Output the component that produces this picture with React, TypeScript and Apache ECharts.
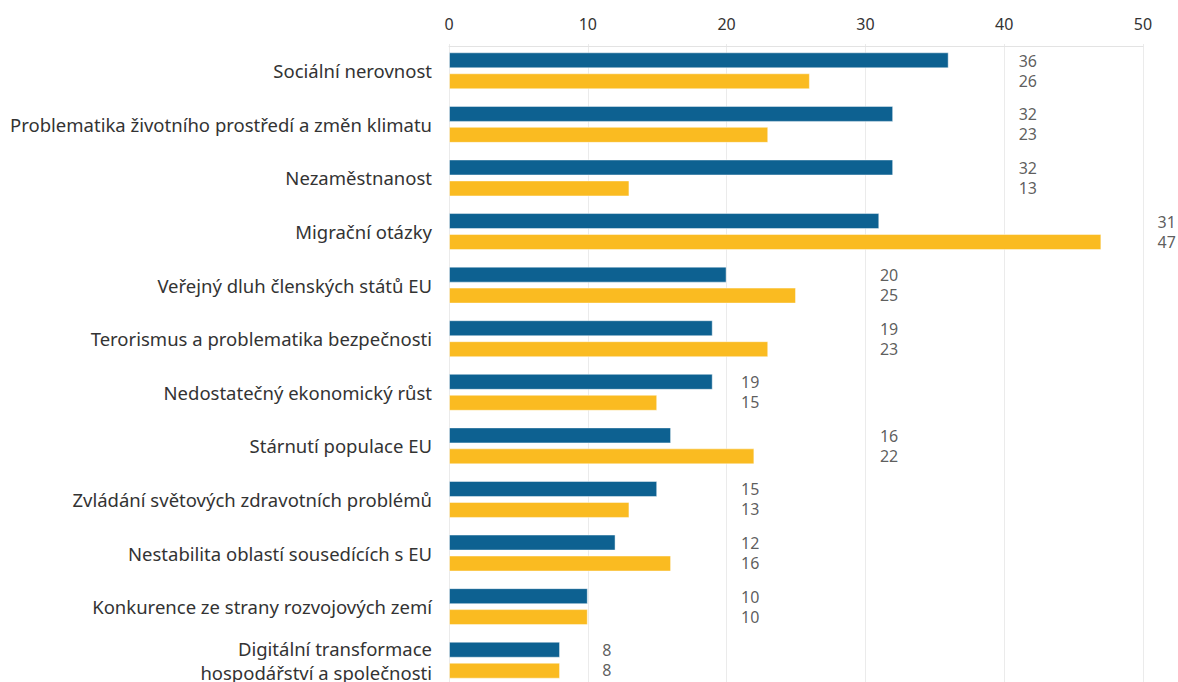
import React, { useEffect, useRef } from "react";
import * as echarts from "echarts";

const categories = [
  "Sociální nerovnost",
  "Problematika životního prostředí a změn klimatu",
  "Nezaměstnanost",
  "Migrační otázky",
  "Veřejný dluh členských států EU",
  "Terorismus a problematika bezpečnosti",
  "Nedostatečný ekonomický růst",
  "Stárnutí populace EU",
  "Zvládání světových zdravotních problémů",
  "Nestabilita oblastí sousedících s EU",
  "Konkurence ze strany rozvojových zemí",
  "Digitální transformace\nhospodářství a společnosti",
];

const seriesA = [36, 32, 32, 31, 20, 19, 19, 16, 15, 12, 10, 8];
const seriesB = [26, 23, 13, 47, 25, 23, 15, 22, 13, 16, 10, 8];

const xTicks = { min: 0, max: 50, interval: 10 };

const BLUE = "#0d6191";
const YELLOW = "#fabb21";
const TEXT = "#333333";
const FONT = "'Noto Sans', sans-serif";

export default function App() {
  const ref = useRef<HTMLDivElement>(null);

  useEffect(() => {
    if (!ref.current) return;
    const chart = echarts.init(ref.current, undefined, { renderer: "svg" });

    const labelData = categories.map((c, i) => {
      const m = Math.max(seriesA[i], seriesB[i]);
      return {
        value: [Math.floor(m / 10) * 10 + 10, c],
        a: seriesA[i],
        b: seriesB[i],
      };
    });

    chart.setOption({
      animation: false,
      grid: { left: 449, right: 35, top: 44, bottom: 13 },
      xAxis: {
        type: "value",
        position: "top",
        min: xTicks.min,
        max: xTicks.max,
        interval: xTicks.interval,
        offset: -2,
        axisLine: { show: true, lineStyle: { color: "#e3e3e3", width: 1 } },
        axisTick: { show: false },
        axisLabel: { color: TEXT, fontSize: 16, fontFamily: FONT, margin: 14 },
        splitLine: { show: true, lineStyle: { color: "#ebebeb", width: 1 } },
      },
      yAxis: {
        type: "category",
        inverse: true,
        data: categories,
        axisLine: { show: false },
        axisTick: { show: false },
        axisLabel: {
          color: TEXT,
          fontSize: 18.5,
          fontFamily: FONT,
          margin: 17,
          lineHeight: 24,
          align: "right",
          padding: [8, 0, 0, 0],
        },
      },
      series: [
        {
          type: "bar",
          name: "A",
          data: seriesA,
          barWidth: 16,
          barGap: "31%",
          itemStyle: { color: BLUE, borderColor: "rgba(255,255,255,0.45)", borderWidth: 1 },
        },
        {
          type: "bar",
          name: "B",
          data: seriesB,
          barWidth: 16,
          itemStyle: { color: YELLOW, borderColor: "rgba(255,255,255,0.45)", borderWidth: 1 },
        },
        {
          type: "scatter",
          data: labelData,
          symbolSize: 1,
          itemStyle: { color: "rgba(0,0,0,0)" },
          silent: true,
          z: 5,
          label: {
            show: true,
            position: "right",
            distance: 14,
            align: "left",
            color: TEXT,
            fontSize: 16,
            fontFamily: FONT,
            lineHeight: 20,
            formatter: (p: any) => `${p.data.a}\n${p.data.b}`,
          },
        },
      ],
    });

    return () => chart.dispose();
  }, []);

  return (
    <div
      ref={ref}
      style={{ position: "absolute", left: 0, top: 0, width: 1178, height: 700, background: "#fff" }}
    />
  );
}
